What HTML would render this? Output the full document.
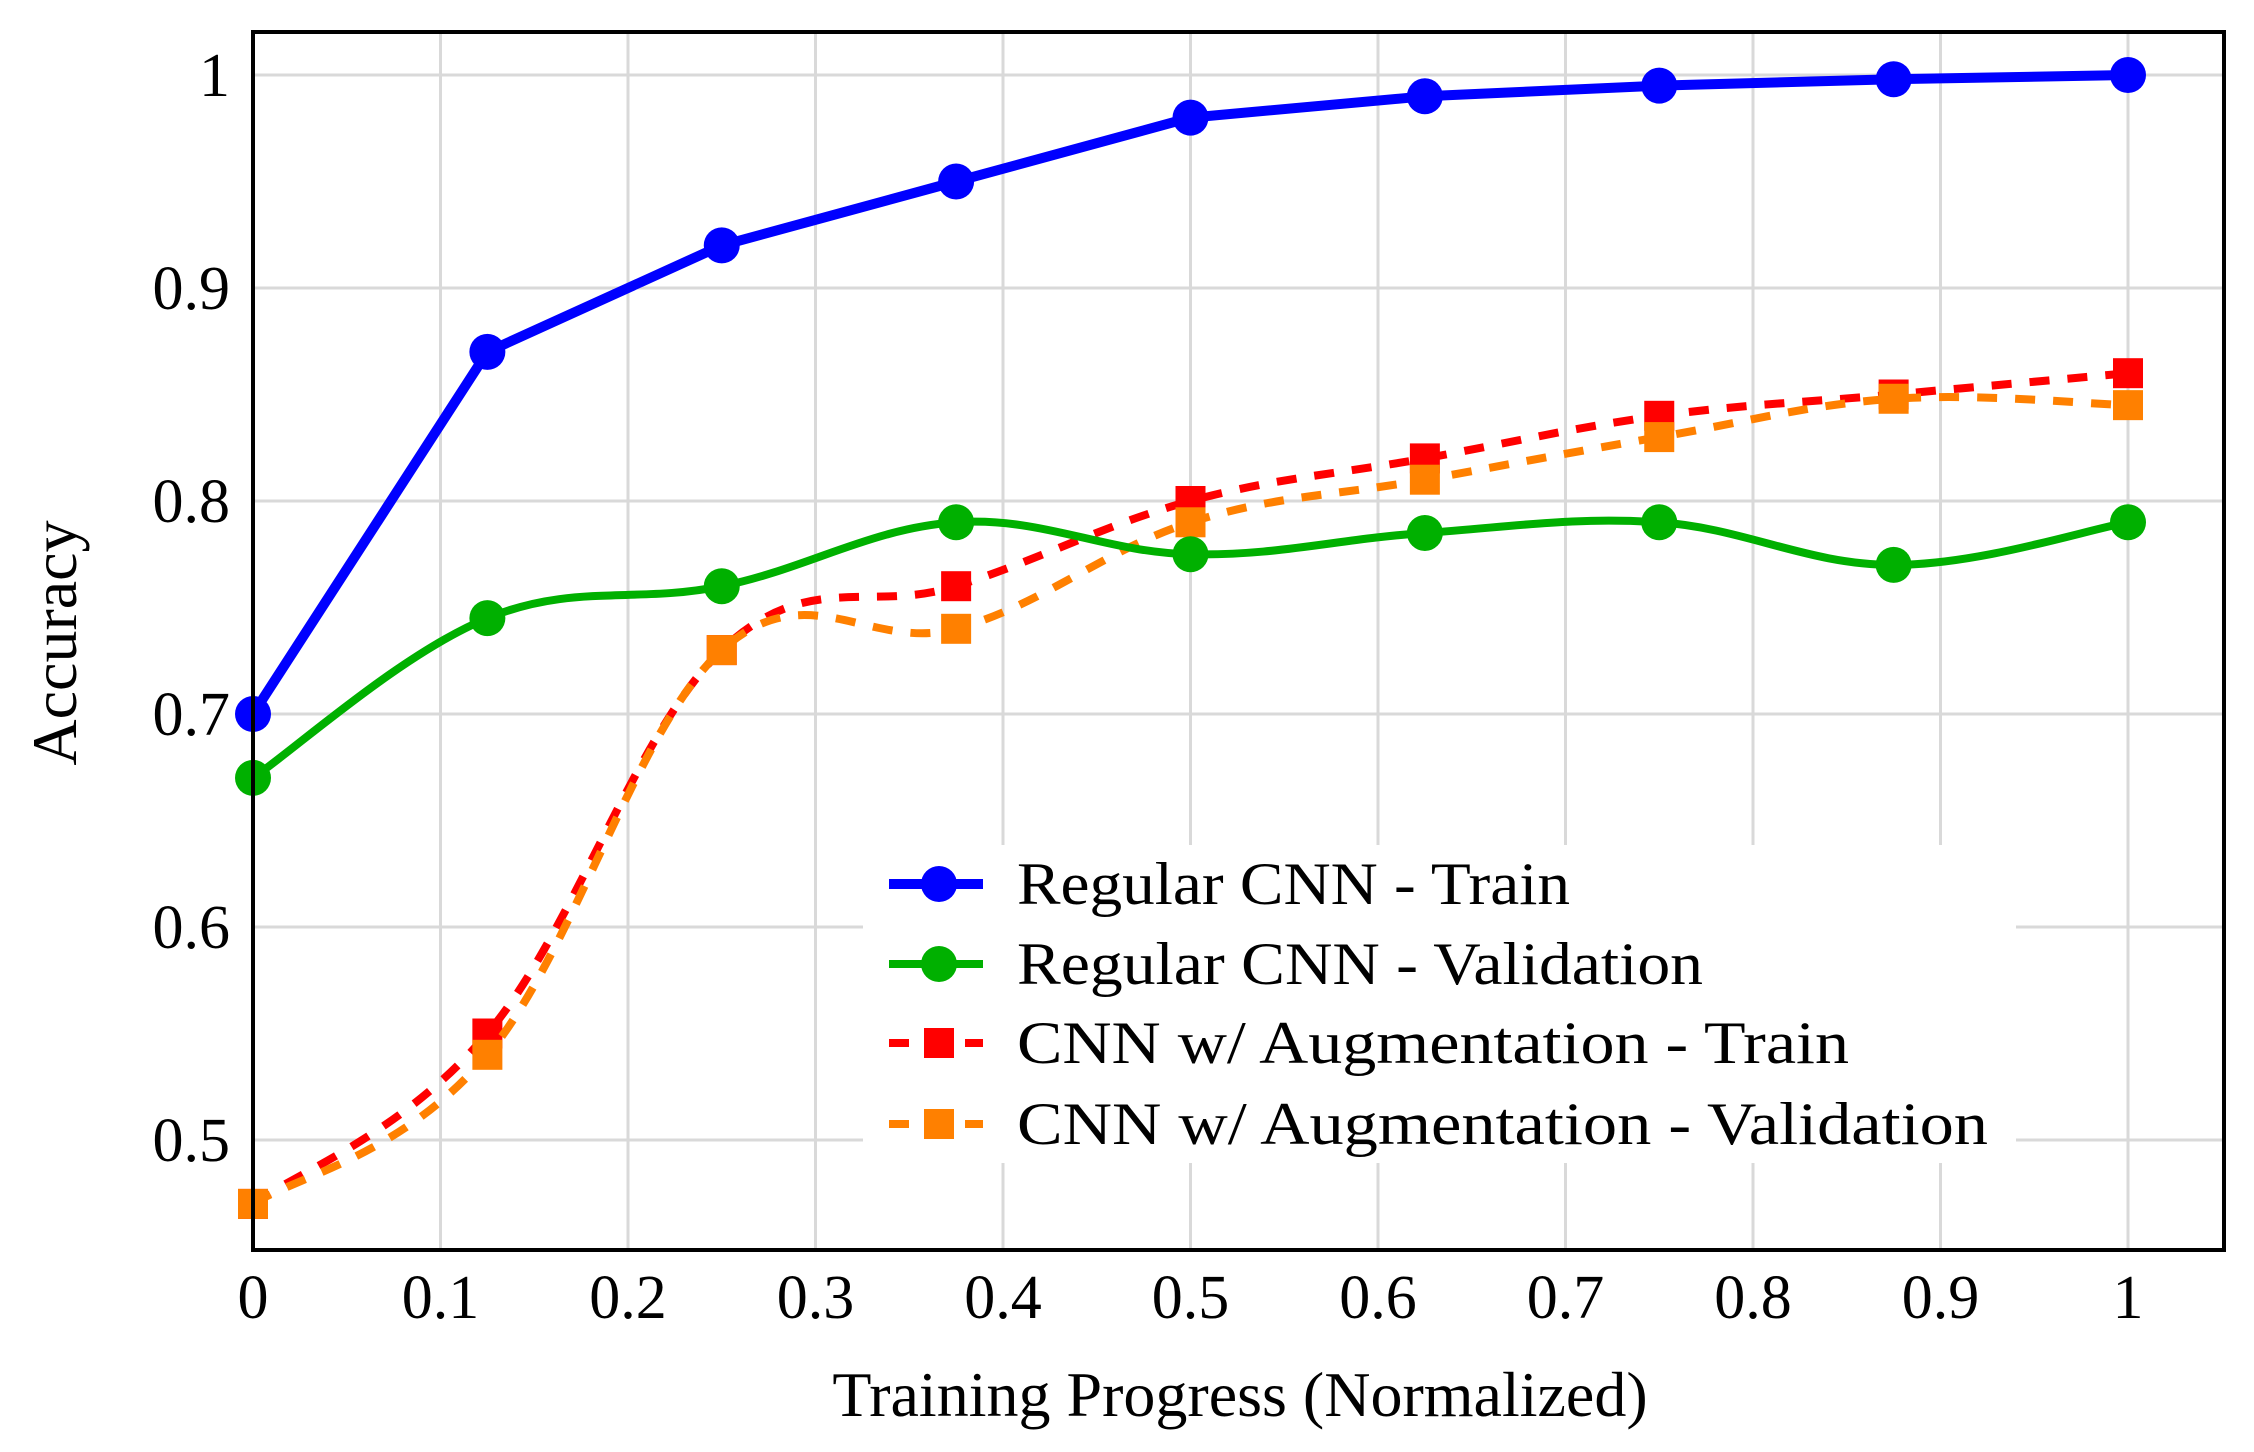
<!DOCTYPE html>
<html><head><meta charset="utf-8"><style>
html,body{margin:0;padding:0;background:#fff;}
svg{display:block;}
text{font-family:"Liberation Serif",serif;fill:#000;}
</style></head><body>
<svg id="chart" width="2254" height="1452" viewBox="0 0 2254 1452" xmlns="http://www.w3.org/2000/svg">
<g id="grid"></g>
<g id="series"></g>
<rect x="253" y="32" width="1971" height="1218" fill="none" stroke="#000" stroke-width="4"/>
<g id="ticks"></g>
<text x="1240" y="1416" font-size="64" text-anchor="middle">Training Progress (Normalized)</text>
<text x="0" y="0" font-size="64" text-anchor="middle" transform="translate(76,643) rotate(-90)">Accuracy</text>
<g id="legend"></g>
</svg>
<script>
const xs = [0, 0.125, 0.25, 0.375, 0.5, 0.625, 0.75, 0.875, 1];
const regTrain = [0.70, 0.87, 0.92, 0.95, 0.98, 0.99, 0.995, 0.998, 1.0];
const regVal = [0.67, 0.745, 0.76, 0.79, 0.775, 0.785, 0.79, 0.77, 0.79];
const augTrain = [0.47, 0.55, 0.73, 0.76, 0.80, 0.82, 0.84, 0.85, 0.86];
const augVal = [0.47, 0.54, 0.73, 0.74, 0.79, 0.81, 0.83, 0.848, 0.845];
const xTicks = [0, 0.1, 0.2, 0.3, 0.4, 0.5, 0.6, 0.7, 0.8, 0.9, 1];
const xTickLabels = ["0","0.1","0.2","0.3","0.4","0.5","0.6","0.7","0.8","0.9","1"];
const yTicks = [0.5, 0.6, 0.7, 0.8, 0.9, 1];
const yTickLabels = ["0.5","0.6","0.7","0.8","0.9","1"];
const legendLabels = ["Regular CNN - Train","Regular CNN - Validation","CNN w/ Augmentation - Train","CNN w/ Augmentation - Validation"];

const NS = "http://www.w3.org/2000/svg";
function X(v){ return 253 + v*1875; }
function Y(v){ return 75 + (1-v)*2130; }
function mk(tag, attrs, parent){
  const e = document.createElementNS(NS, tag);
  for (const k in attrs) e.setAttribute(k, attrs[k]);
  parent.appendChild(e); return e;
}
const grid = document.getElementById('grid');
const ticks = document.getElementById('ticks');
xTicks.forEach((t,i)=>{
  const l = mk('line',{x1:X(t),x2:X(t),y1:32,y2:1250,stroke:'#d9d9d9','stroke-width':3},grid);
  
  
  const tx = mk('text',{x:X(t),y:1318,'font-size':62,'text-anchor':'middle'},ticks);
  tx.textContent = xTickLabels[i];
  
  
});
yTicks.forEach((t,i)=>{
  const l = mk('line',{x1:253,x2:2224,y1:Y(t),y2:Y(t),stroke:'#d9d9d9','stroke-width':3},grid);
  
  
  const tx = mk('text',{x:230,y:Y(t)+21,'font-size':62,'text-anchor':'end'},ticks);
  tx.textContent = yTickLabels[i];
  
  
});
function linePath(pts){ return pts.map((p,i)=>(i?'L':'M')+p[0]+','+p[1]).join(' '); }
function smoothPath(pts){
  const t = 0.55/3;
  let d = 'M'+pts[0][0]+','+pts[0][1];
  for (let i=0;i<pts.length-1;i++){
    const p0 = pts[Math.max(0,i-1)], p1 = pts[i], p2 = pts[i+1], p3 = pts[Math.min(pts.length-1,i+2)];
    const c1 = [p1[0]+(p2[0]-p0[0])*t, p1[1]+(p2[1]-p0[1])*t];
    const c2 = [p2[0]-(p3[0]-p1[0])*t, p2[1]-(p3[1]-p1[1])*t];
    d += ' C'+c1[0]+','+c1[1]+' '+c2[0]+','+c2[1]+' '+p2[0]+','+p2[1];
  }
  return d;
}
const series = document.getElementById('series');
const defs = [
  {vals:augTrain, color:'#ff0000', smooth:true, dash:'20 18', w:8, mark:'square', name:'aug-train'},
  {vals:augVal, color:'#ff8000', smooth:true, dash:'20 18', w:8, mark:'square', name:'aug-validation'},
  {vals:regVal, color:'#00b000', smooth:true, dash:null, w:8, mark:'circle', name:'regular-validation'},
  {vals:regTrain, color:'#0000ff', smooth:false, dash:null, w:10, mark:'circle', name:'regular-train'}
];
defs.forEach(s=>{
  const g = mk('g',{},series);
  
  
  const pts = xs.map((x,i)=>[X(x),Y(s.vals[i])]);
  const attrs = {d: s.smooth?smoothPath(pts):linePath(pts), fill:'none', stroke:s.color, 'stroke-width':s.w, 'stroke-linejoin':'round'};
  if (s.dash) attrs['stroke-dasharray']=s.dash;
  const p = mk('path',attrs,g);
  
  
  pts.forEach(pt=>{
    let m;
    if (s.mark==='circle') m = mk('circle',{cx:pt[0],cy:pt[1],r:18,fill:s.color},g);
    else m = mk('rect',{x:pt[0]-15,y:pt[1]-15,width:30,height:30,fill:s.color},g);
    
    
  });
});
const lg = document.getElementById('legend');
const bg = mk('rect',{x:863,y:845,width:1153,height:318,fill:'#fff'},lg);


const ly = [884, 964, 1043, 1124];
const lw = [553, 686, 832, 971];
const legStyles = [defs[3], defs[2], defs[0], defs[1]];
legendLabels.forEach((lab,i)=>{
  const s = legStyles[i];
  const g = mk('g',{},lg);
  
  
  const a = {x1:889,x2:983,y1:ly[i],y2:ly[i],stroke:s.color,'stroke-width':s.w};
  if (s.dash) a['stroke-dasharray']=s.dash;
  const l = mk('line',a,g);
  
  
  let m;
  if (s.mark==='circle') m = mk('circle',{cx:939,cy:ly[i],r:18,fill:s.color},g);
  else m = mk('rect',{x:924,y:ly[i]-15,width:30,height:30,fill:s.color},g);
  
  
  const t = mk('text',{x:1017,y:ly[i]+20,'font-size':60,textLength:lw[i],lengthAdjust:'spacingAndGlyphs'},g);
  t.textContent = lab;
  
  
});
</script>
</body></html>
